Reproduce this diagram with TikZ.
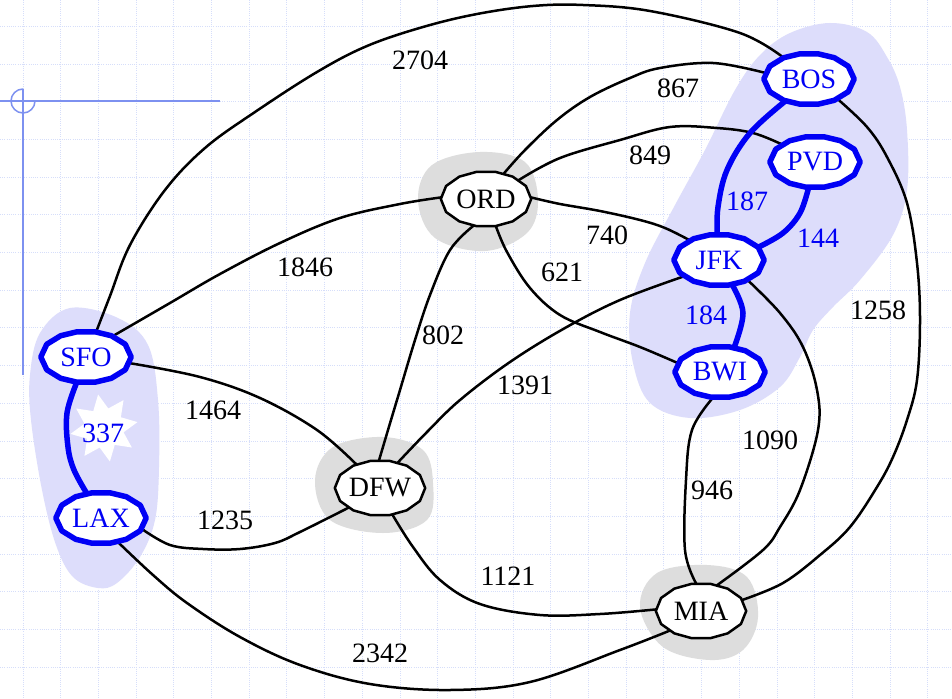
\documentclass[tikz,border=0pt]{standalone}
\usepackage{fontspec}
\setmainfont{Liberation Serif}
\usetikzlibrary{shapes.geometric}

\pgfdeclarelayer{bg}
\pgfdeclarelayer{edges}
\pgfdeclarelayer{shapes}
\pgfsetlayers{bg,edges,shapes,main}

\definecolor{gridblue}{RGB}{214,222,250}
\definecolor{crossblue}{RGB}{125,145,240}
\definecolor{hilite}{RGB}{221,221,251}
\definecolor{halo}{RGB}{221,221,221}
\definecolor{pathblue}{RGB}{0,0,245}

\tikzset{
  city/.style={ellipse, minimum width=90pt, minimum height=55pt, inner sep=0pt,
    font=\fontsize{28}{30}\selectfont},
  hubcity/.style={city, minimum height=51pt, text=pathblue},
  edge/.style={line width=2.5pt, line join=round, line cap=round},
  bluedge/.style={line width=5.5pt, draw=pathblue, line join=round, line cap=round},
  weight/.style={font=\fontsize{28}{30}\selectfont, inner sep=0pt},
  blueweight/.style={weight, text=pathblue},
  ring/.style={draw=black, line width=2.5pt, fill=white, line join=round},
  bluering/.style={draw=pathblue, line width=5.5pt, fill=white, line join=round},
  gridline/.style={draw=gridblue, line width=0.9pt, dash pattern=on 1pt off 1.2pt},
  smoothcurve/.style={smooth, tension=0.6}
}

% polygonal outline through border points of an elliptic node
\newcommand{\cityoutline}[2]{%
  \draw[#1] (#2.0) -- (#2.18) -- (#2.40) -- (#2.70) -- (#2.110) -- (#2.140)
    -- (#2.162) -- (#2.180) -- (#2.198) -- (#2.220) -- (#2.250) -- (#2.290)
    -- (#2.320) -- (#2.342) -- cycle;}

\begin{document}
\begin{tikzpicture}[x=1pt, y=-1pt]
\useasboundingbox (0,0) rectangle (952,698);

% ---------- cities ----------
\node[hubcity] (SFO) at (86,357) {SFO};
\node[hubcity] (LAX) at (101,518) {LAX};
\node[city]    (ORD) at (486,199) {ORD};
\node[city]    (DFW) at (380,488) {DFW};
\node[city]    (MIA) at (701,611) {MIA};
\node[hubcity] (BOS) at (809,79) {BOS};
\node[hubcity] (PVD) at (815,162) {PVD};
\node[hubcity] (JFK) at (719,260) {JFK};
\node[hubcity] (BWI) at (720,372) {BWI};

% ---------- background: paper grid, crosshair, regions ----------
\begin{pgfonlayer}{bg}
  \fill[white] (0,0) rectangle (952,698);
  \foreach \i in {0,...,25}
    \draw[gridline] ({-14.7+37.7*\i},0) -- ({-14.7+37.7*\i},698);
  \foreach \j in {0,...,17}
    \draw[gridline] (0,{26.3+37.7*\j}) -- (952,{26.3+37.7*\j});

  \draw[crossblue, line width=1.5pt] (0,101) -- (220,101);
  \draw[crossblue, line width=1.5pt] (23,89) -- (23,375);
  \draw[crossblue, line width=1.5pt] (35,101) arc[start angle=0, end angle=270, radius=12];

  % west coast region
  \fill[hilite] plot[smooth cycle, tension=0.6] coordinates {
    (98,588) (73,577) (56,545) (42,490) (31,420) (30,375) (40,333) (70,308)
    (118,318) (148,345) (158,400) (159,467) (155,520) (140,557) (117,583)};
  % east coast region
  \fill[hilite] plot[smooth cycle, tension=0.6] coordinates {
    (790,33) (830,23) (867,32) (887,57) (900,87) (907,130) (907,190) (893,235)
    (860,280) (833,307) (813,330) (800,357) (780,387) (740,410) (690,418)
    (650,403) (633,363) (630,313) (645,263) (675,205) (705,150) (735,90) (760,55)};

  % grey halos
  \fill[halo] plot[smooth cycle, tension=0.6] coordinates {
    (418,200) (432,165) (480,152) (525,162) (538,200) (527,233) (485,251) (435,238)};
  \fill[halo] plot[smooth cycle, tension=0.6] coordinates {
    (315,480) (333,447) (383,437) (423,450) (433,483) (427,520) (383,533) (330,520)};
  \fill[halo] plot[smooth cycle, tension=0.6] coordinates {
    (640,607) (657,573) (707,565) (747,577) (758,617) (743,650) (710,660) (663,647)};

  % burst behind the SFO-LAX weight
  \node[star, star points=8, star point ratio=1.7, minimum size=68pt,
        inner sep=0pt, fill=white, rotate=10] (burst) at (104,428) {};
\end{pgfonlayer}

% ---------- connections ----------
\begin{pgfonlayer}{edges}
  \draw[edge] plot[smoothcurve] coordinates {(SFO.68) (110,296) (130,245) (165,190)
    (205,148) (255,112) (317,72) (367,46) (423,27) (477,14) (533,6) (583,5)
    (650,11) (740,33) (BOS.140)};
  \draw[edge] plot[smoothcurve] coordinates {(ORD.55) (525,150) (557,120) (590,97)
    (630,78) (660,68) (713,63) (BOS.172)};
  \draw[edge] plot[smoothcurve] coordinates {(ORD.30) (560,158) (620,140) (670,127)
    (717,128) (753,133) (PVD.152)};
  \draw[edge] plot[smoothcurve] coordinates {(ORD.2) (560,204) (600,211) (640,220)
    (665,228) (JFK.146)};
  \draw[edge] plot[smoothcurve] coordinates {(ORD.-70) (507,252) (530,288) (560,315)
    (600,332) (640,347) (BWI.168)};
  \draw[edge] plot[smoothcurve] coordinates {(ORD.178) (400,204) (340,218) (280,243)
    (220,274) (170,303) (SFO.38)};
  \draw[edge] plot[smoothcurve] coordinates {(ORD.-115) (450,250) (430,295) (415,340)
    (400,390) (388,430) (DFW.92)};
  \draw[edge] plot[smoothcurve] coordinates {(JFK.-155) (620,300) (565,328) (510,362)
    (460,400) (427,432) (DFW.55)};
  \draw[edge] plot[smoothcurve] coordinates {(SFO.-8) (200,377) (260,398) (317,430)
    (DFW.135)};
  \draw[edge] plot[smoothcurve] coordinates {(LAX.-15) (170,545) (203,549) (240,549)
    (275,543) (300,532) (DFW.212)};
  \draw[edge] plot[smoothcurve] coordinates {(LAX.-55) (153,575) (187,603) (240,637)
    (300,665) (370,684) (450,690) (530,682) (620,650) (MIA.212)};
  \draw[edge] plot[smoothcurve] coordinates {(DFW.-65) (413,547) (440,580) (480,604)
    (540,615) (600,614) (MIA.178)};
  \draw[edge] plot[smoothcurve] coordinates {(BWI.-105) (692,430) (686,480) (685,550)
    (MIA.100)};
  \draw[edge] plot[smoothcurve] coordinates {(JFK.-35) (780,313) (803,347) (817,390)
    (818,430) (800,490) (780,527) (763,550) (MIA.58)};
  \draw[edge] plot[smoothcurve] coordinates {(BOS.-35) (867,127) (887,157) (907,203)
    (917,263) (920,320) (917,380) (907,420) (893,457) (877,487) (850,527)
    (820,555) (783,583) (MIA.15)};

  \draw[bluedge] plot[smoothcurve] coordinates {(SFO.-110) (67,413) (68,447) (74,470)
    (LAX.120)};
  \draw[bluedge] plot[smoothcurve] coordinates {(BOS.223) (750,133) (727,170) (718,207)
    (JFK.94)};
  \draw[bluedge] plot[smoothcurve] coordinates {(PVD.-104) (800,213) (783,233) (JFK.18)};
  \draw[bluedge] plot[smoothcurve] coordinates {(JFK.-62) (743,313) (BWI.60)};
\end{pgfonlayer}

% ---------- city outlines ----------
\begin{pgfonlayer}{shapes}
  \cityoutline{bluering}{SFO}
  \cityoutline{bluering}{LAX}
  \cityoutline{ring}{ORD}
  \cityoutline{ring}{DFW}
  \cityoutline{ring}{MIA}
  \cityoutline{bluering}{BOS}
  \cityoutline{bluering}{PVD}
  \cityoutline{bluering}{JFK}
  \cityoutline{bluering}{BWI}
\end{pgfonlayer}

% ---------- distances ----------
\node[weight] (w2704) at (420,60) {2704};
\node[weight] (w867)  at (678,88) {867};
\node[weight] (w849)  at (650,155) {849};
\node[weight] (w740)  at (607,235) {740};
\node[weight] (w621)  at (562,272) {621};
\node[weight] (w1846) at (305,267) {1846};
\node[weight] (w802)  at (443,335) {802};
\node[weight] (w1391) at (525,385) {1391};
\node[weight] (w1464) at (213,410) {1464};
\node[weight] (w1235) at (225,520) {1235};
\node[weight] (w2342) at (380,653) {2342};
\node[weight] (w1121) at (508,576) {1121};
\node[weight] (w946)  at (712,490) {946};
\node[weight] (w1090) at (770,440) {1090};
\node[weight] (w1258) at (878,310) {1258};
\node[blueweight] (w337) at (103,433) {337};
\node[blueweight] (w187) at (747,201) {187};
\node[blueweight] (w144) at (818,238) {144};
\node[blueweight] (w184) at (706,315) {184};
\end{tikzpicture}
\end{document}
